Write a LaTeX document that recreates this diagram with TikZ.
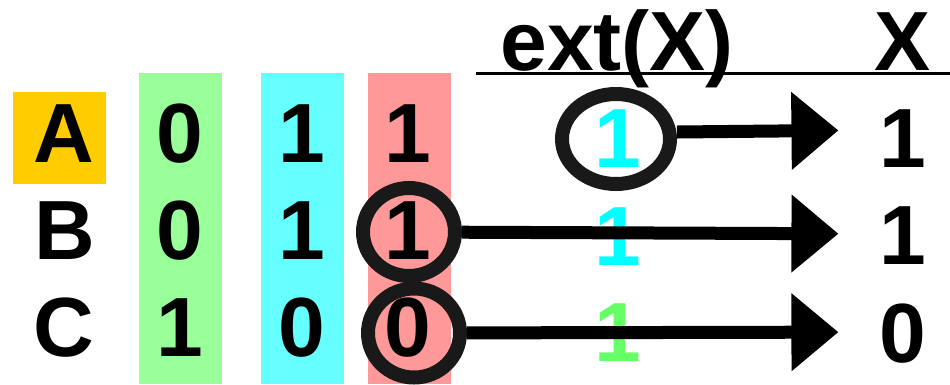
\documentclass[tikz,border=0pt]{standalone}
\usepackage{fontspec}
\setmainfont{Liberation Sans}
\usepackage{xcolor}
\usepackage{tikz}
\usetikzlibrary{arrows.meta, shapes.geometric, positioning}
\definecolor{colA}{HTML}{FFCC00}
\definecolor{colG}{HTML}{99FF99}
\definecolor{colC}{HTML}{66FFFF}
\definecolor{colR}{HTML}{FF9999}
\definecolor{extC}{HTML}{00FFFF}
\definecolor{extG}{HTML}{66FF66}

\begin{document}
\begin{tikzpicture}[x=1pt, y=-1pt,
    val/.style={font=\fontsize{84}{84}\selectfont\bfseries, text height=60pt, text depth=0pt, inner sep=0pt},
    ring/.style={draw=black!90, line width=14pt, ellipse, inner sep=0pt},
    bigarrow/.style={line width=13pt, -{Triangle[length=47pt,width=75pt]}, shorten >=41pt}]
            \useasboundingbox (0,0) rectangle (950,384);
            % 背景色块
            \fill[colA] (13,92) rectangle (106,184);
            \fill[colG] (139,73) rectangle (222,384);
            \fill[colC] (261,73) rectangle (344,384);
            \fill[colR] (368,73) rectangle (451,384);
            % 表头
            \draw[line width=3pt] (476,73) -- (950,73);
            \node[val] (hExt) at (617,40) {ext(X)};
            \node[val] (hX) at (903,40) {X};
            % 左边三行
            \node[val] (lA) at (64,132) {A};
            \node[val] (lB) at (65,229) {B};
            \node[val] (lC) at (64,326) {C};
            \node[val] (gA) at (180,132) {0};
            \node[val] (gB) at (180,229) {0};
            \node[val] (gC) at (180,326) {1};
            \node[val] (cA) at (302,132) {1};
            \node[val] (cB) at (302,229) {1};
            \node[val] (cC) at (302,326) {0};
            \node[val] (pA) at (408,132) {1};
            \node[val] (pB) at (408,229) {1};
            \node[val] (pC) at (408,326) {0};
            % ext(X) 和 X
            \node[val, text=extC] (eA) at (618,137) {1};
            \node[val, text=extC] (eB) at (618,235) {1};
            \node[val, text=extG] (eC) at (618,331) {1};
            \node[val] (xA) at (903,137) {1};
            \node[val] (xB) at (903,234) {1};
            \node[val] (xC) at (903,332) {0};
            % 圈和箭头
            \node[ring, minimum width=108pt, minimum height=90pt] (rA) at (616,139) {};
            \node[ring, minimum width=92pt, minimum height=88pt] (rB) at (409,232) {};
            \node[ring, minimum width=92pt, minimum height=89pt] (rC) at (414,333) {};
            \draw[bigarrow] ([yshift=7pt]rA.east) -- ([yshift=7pt]xA.west);
            \draw[bigarrow] (rB) -- (xB);
            \draw[bigarrow] (rC) -- (xC);
        \end{tikzpicture}
\end{document}
